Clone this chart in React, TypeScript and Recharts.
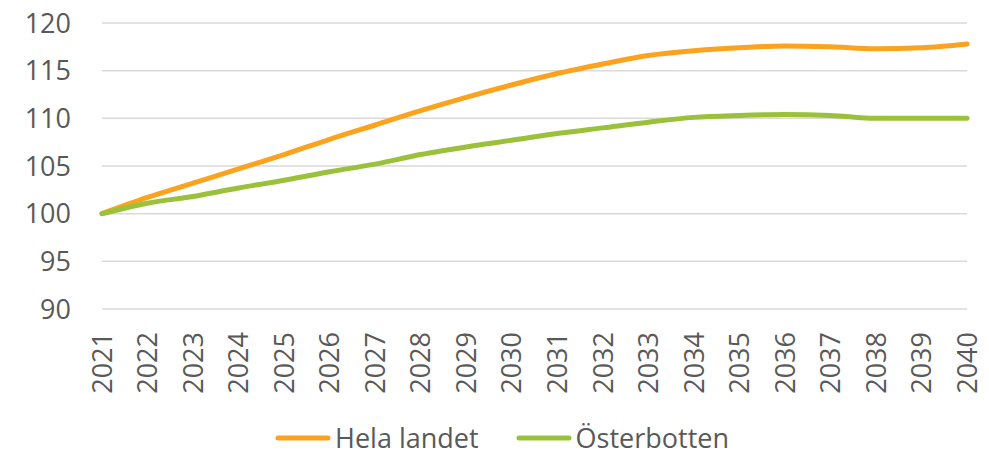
import { CartesianGrid, Legend, Line, LineChart, XAxis, YAxis } from "recharts";

const years = [
  "2021", "2022", "2023", "2024", "2025", "2026", "2027", "2028", "2029", "2030",
  "2031", "2032", "2033", "2034", "2035", "2036", "2037", "2038", "2039", "2040",
];
const helaLandet = [
  100, 101.7, 103.2, 104.7, 106.2, 107.8, 109.3, 110.8, 112.2, 113.5,
  114.7, 115.7, 116.6, 117.1, 117.4, 117.6, 117.5, 117.3, 117.4, 117.8,
];
const osterbotten = [
  100, 101.1, 101.8, 102.7, 103.5, 104.4, 105.2, 106.2, 107.0, 107.7,
  108.4, 109.0, 109.6, 110.1, 110.3, 110.4, 110.3, 110.0, 110.0, 110.0,
];
const yTicks = [90, 95, 100, 105, 110, 115, 120];

const ORANGE = "#FBA31F";
const GREEN = "#9BC13B";
const TEXT = "#595959";
const FONT = "'Open Sans', sans-serif";

const data = years.map((year, i) => ({
  year,
  hela: helaLandet[i],
  oster: osterbotten[i],
}));

// rotated year label, centred on the tick
function YearTick({ x, y, payload }: any) {
  return (
    <text
      x={x}
      y={y}
      transform={`rotate(-90 ${x} ${y})`}
      textAnchor="end"
      dy="0.36em"
      fill={TEXT}
      fontSize={27}
      fontFamily={FONT}
    >
      {payload.value}
    </text>
  );
}

function LegendContent({ payload }: { payload?: any[] }) {
  return (
    <div style={{ display: "flex", alignItems: "center", fontFamily: FONT, fontSize: 27, color: TEXT, lineHeight: "22px", height: 22 }}>
      {(payload ?? []).map((p, i) => (
        <div key={p.value} style={{ display: "flex", alignItems: "center", marginLeft: i > 0 ? 37 : 0, whiteSpace: "nowrap" }}>
          <svg width={56} height={8} style={{ marginRight: 4 }}>
            <line x1={3} y1={4} x2={53} y2={4} stroke={p.color} strokeWidth={5} strokeLinecap="round" />
          </svg>
          <span>{p.value}</span>
        </div>
      ))}
    </div>
  );
}

export default function App() {
  return (
    <div style={{ width: 989, height: 451, background: "#fff" }}>
      <style>{"body{margin:0}"}</style>
      <LineChart width={989} height={451} data={data} margin={{ top: 23, right: 22, bottom: 52, left: 0 }}>
        <CartesianGrid stroke="#D9D9D9" strokeWidth={1.5} vertical={false} />
        <XAxis
          dataKey="year"
          axisLine={false}
          tickLine={false}
          tickSize={0}
          tickMargin={23}
          height={90}
          interval={0}
          tick={<YearTick />}
        />
        <YAxis
          domain={[90, 120]}
          ticks={yTicks}
          axisLine={false}
          tickLine={false}
          tickSize={0}
          tickMargin={31}
          width={102}
          tick={{ fill: TEXT, fontSize: 27, fontFamily: FONT }}
        />
        <Legend
          layout="horizontal"
          verticalAlign="middle"
          align="center"
          content={<LegendContent />}
          wrapperStyle={{ top: 427, left: 275, width: 520, height: 22 }}
        />
        <Line
          type="monotone"
          dataKey="hela"
          name="Hela landet"
          stroke={ORANGE}
          strokeWidth={5}
          strokeLinecap="round"
          dot={false}
          isAnimationActive={false}
        />
        <Line
          type="monotone"
          dataKey="oster"
          name="Österbotten"
          stroke={GREEN}
          strokeWidth={5}
          strokeLinecap="round"
          dot={false}
          isAnimationActive={false}
        />
      </LineChart>
    </div>
  );
}
